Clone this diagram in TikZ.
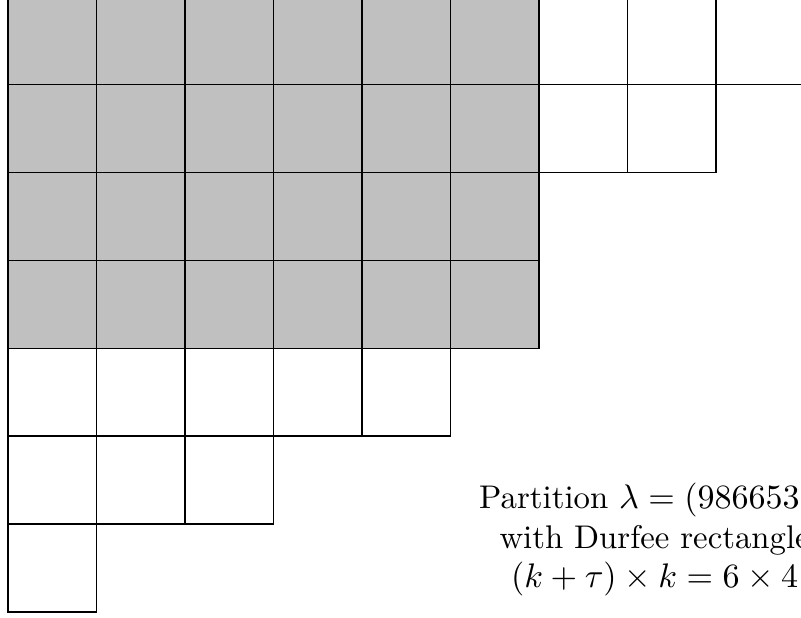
\documentclass[tikz,border=0pt]{standalone}
\definecolor{durfee}{RGB}{192,192,192}
\begin{document}
\begin{tikzpicture}[x=1cm,y=-0.9932cm,
  cellbox/.style={draw=black,line width=0.4pt},
  durfeebox/.style={fill=durfee}]
\path[use as bounding box] (-0.0904,0.0387) rectangle (8.9605,7.069);
\clip (-0.0904,0.0387) rectangle (8.9605,7.069);
\fill[durfeebox] (0,0) rectangle (6,4);
\foreach \len [count=\r] in {9,8,6,6,5,3,1} {
  \foreach \c in {1,...,\len} {
    \draw[cellbox] (\c-1,\r-1) rectangle (\c,\r);
  }
}
\node[align=center,font={\fontsize{10.54pt}{12.65pt}\selectfont}] (caption) at (7.307,6.179)
  {Partition $\lambda=(9866531)$\\ with Durfee rectangle\\ $(k+\tau)\times k=6\times 4$};
\end{tikzpicture}
\end{document}
